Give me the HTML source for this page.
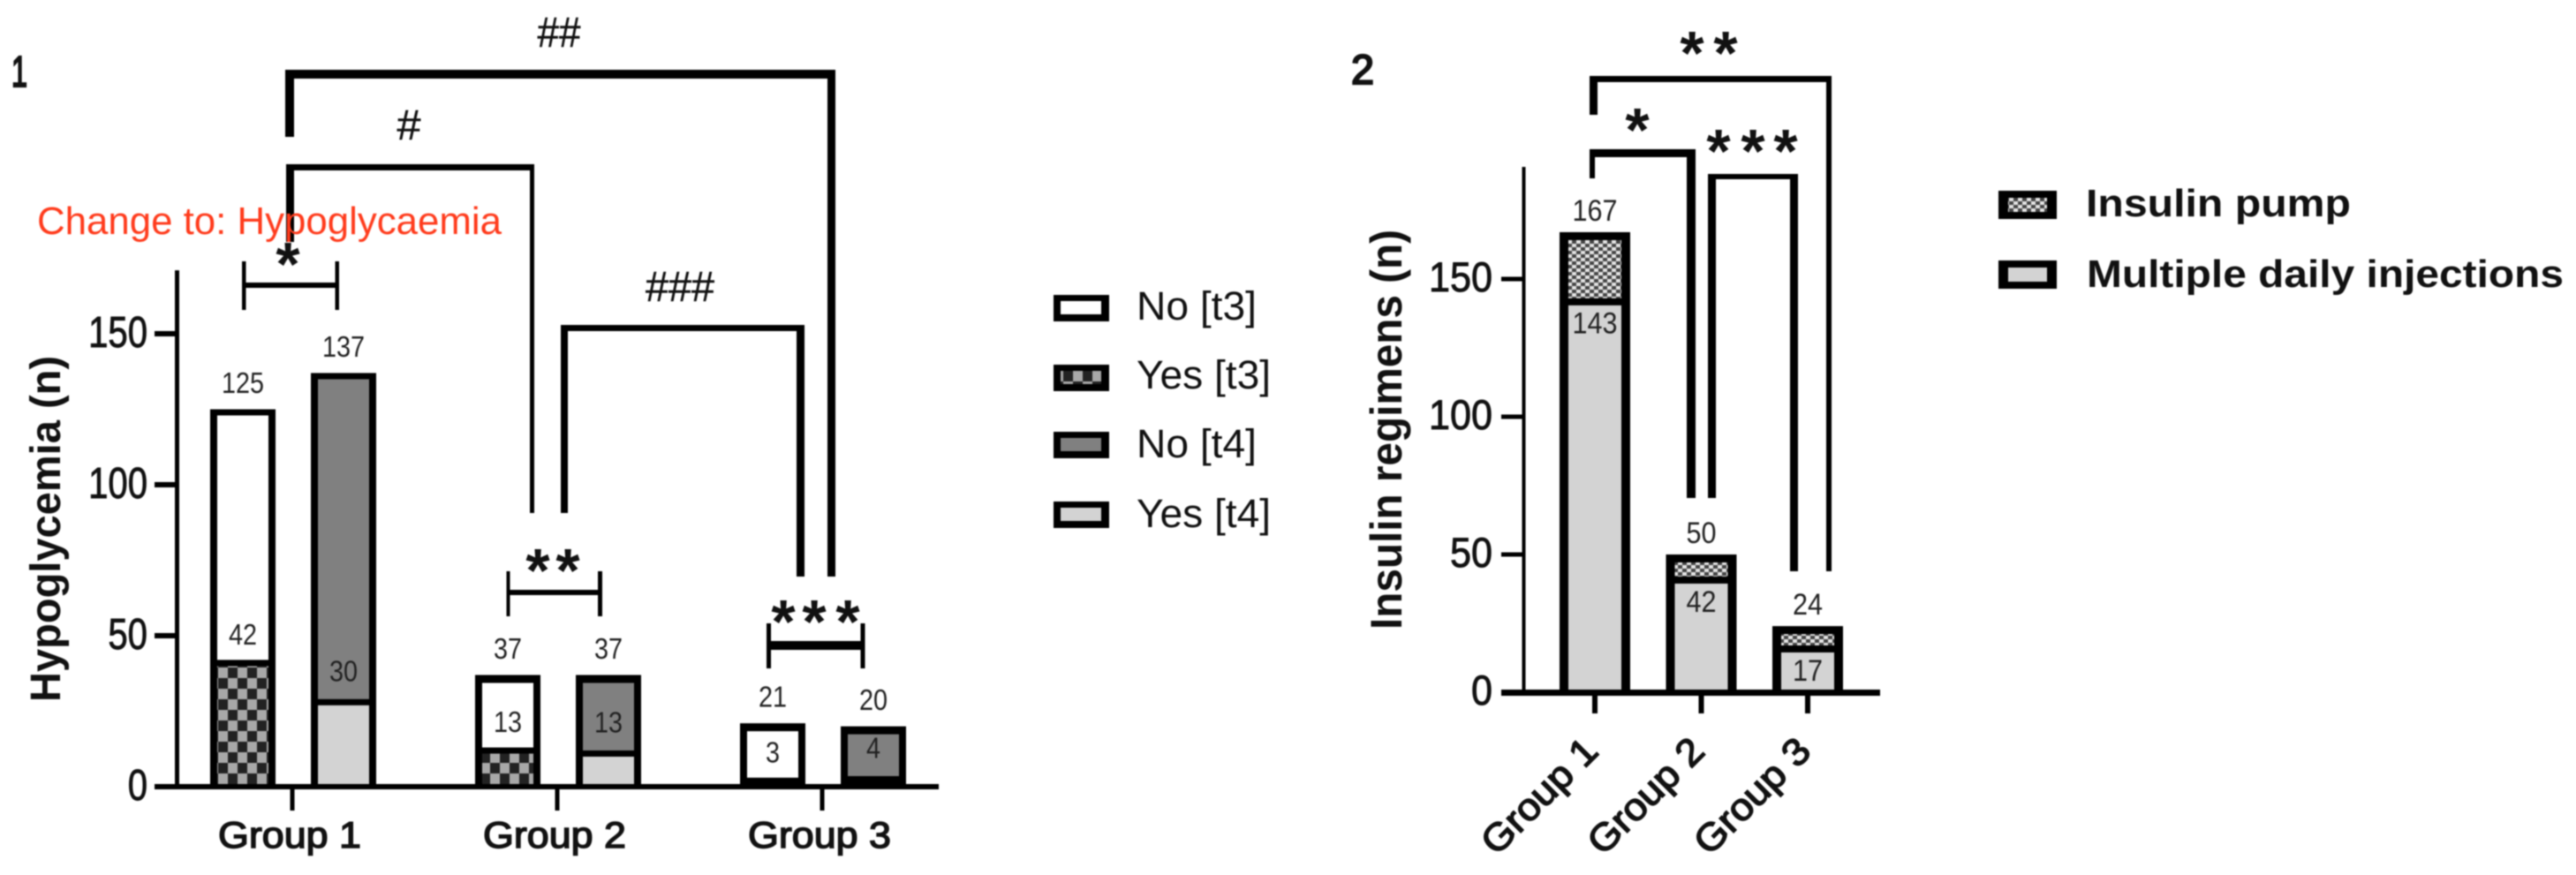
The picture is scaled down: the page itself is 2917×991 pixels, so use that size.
<!DOCTYPE html>
<html lang="en">
<head>
<meta charset="utf-8">
<title>Hypoglycemia and insulin regimens by group</title>
<style>
html,body{margin:0;padding:0;background:#fff;width:2917px;height:991px;overflow:hidden}
svg{display:block;filter:blur(0.8px)}
text{font-family:"Liberation Sans",sans-serif;fill:#111}
.bold{font-weight:700}
.semi{stroke:#111;stroke-width:1.5px}
.tick-text{stroke:#111;stroke-width:.9px}
.num{stroke:#111;stroke-width:2.2px}
.ast{font-weight:700;font-size:70px;text-anchor:middle;fill:#111}
.hash{fill:#111;text-anchor:middle;stroke:#111;stroke-width:.5px}
</style>
</head>
<body>
<svg id="figure" xmlns="http://www.w3.org/2000/svg" width="2917" height="991" viewBox="0 0 2917 991">
  <defs>
    <pattern id="checker" patternUnits="userSpaceOnUse" width="22" height="24" x="247" y="0">
      <rect width="22" height="24" fill="#a8a8a8"/>
      <rect width="11" height="12" fill="#222"/>
      <rect x="11" y="12" width="11" height="12" fill="#222"/>
    </pattern>
    <pattern id="dots" patternUnits="userSpaceOnUse" width="10" height="8">
      <rect width="10" height="8" fill="#e4e4e4"/>
      <rect width="5" height="4" fill="#444"/>
      <rect x="5" y="4" width="5" height="4" fill="#444"/>
    </pattern>
  </defs>

  <rect width="2917" height="991" fill="#fff"/>

  <text class="num" x="13" y="98" font-size="49" textLength="18" lengthAdjust="spacingAndGlyphs">1</text>
  <text class="num" x="1530" y="95" font-size="47" textLength="26" lengthAdjust="spacingAndGlyphs">2</text>

  <g id="chart1"></g>
  <g id="chart2"></g>

  <text class="bold" transform="translate(68,795) rotate(-90)" font-size="48" textLength="392" lengthAdjust="spacingAndGlyphs">Hypoglycemia (n)</text>
  <text class="bold" transform="translate(1587,713) rotate(-90)" font-size="50" textLength="453" lengthAdjust="spacingAndGlyphs">Insulin regimens (n)</text>

  <!-- Panel 1 significance brackets -->
  <g fill="#000">
    <rect x="323" y="79" width="623" height="10"/><rect x="323" y="79" width="10" height="76"/><rect x="937" y="79" width="9" height="574"/>
  </g>
  <g fill="#000">
    <rect x="324" y="186" width="281" height="7"/><rect x="324" y="186" width="9" height="88"/><rect x="600" y="186" width="5" height="395"/>
  </g>
  <g fill="#000">
    <rect x="635" y="368" width="276" height="7"/><rect x="635" y="368" width="8" height="213"/><rect x="902" y="368" width="9" height="285"/>
  </g>
  <g fill="#000">
    <rect x="274" y="296" width="4.5" height="55"/><rect x="379.5" y="296" width="4.5" height="55"/><rect x="274" y="320" width="110" height="6"/>
  </g>
  <g fill="#000">
    <rect x="573.5" y="647" width="4" height="51"/><rect x="677" y="647" width="5" height="51"/><rect x="574" y="668" width="108" height="6"/>
  </g>
  <g fill="#000">
    <rect x="868" y="706" width="5" height="51"/><rect x="974.5" y="706" width="5" height="51"/><rect x="868" y="726" width="111" height="10"/>
  </g>

  <text class="hash" x="633" y="53" font-size="48" textLength="49" lengthAdjust="spacingAndGlyphs">##</text>
  <text class="hash" x="463" y="158" font-size="48" textLength="27" lengthAdjust="spacingAndGlyphs">#</text>
  <text class="hash" x="770" y="341" font-size="48" textLength="78" lengthAdjust="spacingAndGlyphs">###</text>

  <text class="ast" x="326" y="323">*</text>
  <text class="ast" x="609 643" y="670">**</text>
  <text class="ast" x="887 922 960" y="728">***</text>

  <!-- Panel 2 significance brackets -->
  <g fill="#000">
    <rect x="1800" y="86" width="274" height="7"/><rect x="1800" y="86" width="9" height="44"/><rect x="2068" y="86" width="6" height="561"/>
  </g>
  <g fill="#000">
    <rect x="1800" y="169" width="120" height="9"/><rect x="1800" y="169" width="6" height="33"/><rect x="1910" y="169" width="10" height="395"/>
  </g>
  <g fill="#000">
    <rect x="1934" y="197" width="102" height="6"/><rect x="1934" y="197" width="9" height="367"/><rect x="2027" y="197" width="9" height="450"/>
  </g>
  <text class="ast" x="1916 1954" y="84">**</text>
  <text class="ast" x="1854" y="171">*</text>
  <text class="ast" x="1946 1985 2022" y="195">***</text>

  <!-- Legend 1 -->
  <g>
    <rect x="1193" y="334" width="63" height="30" fill="#000"/><rect x="1201" y="341" width="46" height="15" fill="#fff"/>
    <text x="1287" y="362" font-size="45" textLength="136" lengthAdjust="spacingAndGlyphs">No [t3]</text>
  </g>
  <g>
    <rect x="1193" y="413" width="63" height="30" fill="#000"/><rect x="1201" y="420" width="46" height="15" fill="url(#checker)"/>
    <text x="1287" y="440" font-size="45" textLength="152" lengthAdjust="spacingAndGlyphs">Yes [t3]</text>
  </g>
  <g>
    <rect x="1193" y="489" width="63" height="30" fill="#000"/><rect x="1201" y="496" width="46" height="15" fill="#808080"/>
    <text x="1287" y="518" font-size="45" textLength="136" lengthAdjust="spacingAndGlyphs">No [t4]</text>
  </g>
  <g>
    <rect x="1193" y="568" width="63" height="30" fill="#000"/><rect x="1201" y="575" width="46" height="15" fill="#d3d3d3"/>
    <text x="1287" y="597" font-size="45" textLength="152" lengthAdjust="spacingAndGlyphs">Yes [t4]</text>
  </g>

  <!-- Legend 2 -->
  <g>
    <rect x="2263" y="216" width="66" height="32" fill="#000"/><rect x="2274" y="224" width="44" height="16" fill="url(#dots)"/>
    <text class="bold" x="2362" y="245" font-size="44" textLength="300" lengthAdjust="spacingAndGlyphs">Insulin pump</text>
  </g>
  <g>
    <rect x="2263" y="295" width="66" height="32" fill="#000"/><rect x="2274" y="303" width="44" height="16" fill="#d3d3d3"/>
    <text class="bold" x="2363" y="325" font-size="44" textLength="540" lengthAdjust="spacingAndGlyphs">Multiple daily injections</text>
  </g>

  <text x="42" y="265" font-size="44" textLength="526" lengthAdjust="spacingAndGlyphs" style="fill:#ff3b1c">Change to: Hypoglycaemia</text>
</svg>

<script>
// Panel 1 data
var groups = ['Group 1', 'Group 2', 'Group 3'];
var t3Total = [125, 37, 21];
var t3Yes = [42, 13, 3];
var t4Total = [137, 37, 20];
var t4Yes = [29, 12, 3.5];
var t3TotalLabels = ['125', '37', '21'];
var t3YesLabels = ['42', '13', '3'];
var t4TotalLabels = ['137', '37', '20'];
var t4YesLabels = ['30', '13', '4'];
var ticks1 = [0, 50, 100, 150];
var axisMax1 = 171;

// Panel 2 data
var pump = [24, 8, 7];
var mdi = [143, 42, 17];
var totalLabels2 = ['167', '50', '24'];
var mdiLabels2 = ['143', '42', '17'];
var ticks2 = [0, 50, 100, 150];
var axisMax2 = 190.7;

var NS = 'http://www.w3.org/2000/svg';
function mk(parent, tag, attrs, txt) {
  var el = document.createElementNS(NS, tag);
  for (var k in attrs) el.setAttribute(k, attrs[k]);
  if (txt !== undefined) el.textContent = txt;
  parent.appendChild(el);
  return el;
}
function y1(v) { return 891 - 3.42 * v; }
function x1(i) { return 331 + 300 * i; }
function y2(v) { return 784 - 3.12 * v; }
function x2(i) { return 1806 + 120.5 * i; }

function valueText(parent, cx, cy, s, fs, perDigit) {
  return mk(parent, 'text', {
    x: cx, y: cy + 0.35 * fs, 'font-size': fs, 'text-anchor': 'middle',
    textLength: perDigit * s.length, lengthAdjust: 'spacingAndGlyphs', style: 'fill:#222'
  }, s);
}

function stackedBar1(parent, cx, total, yes, upperFill, lowerFill) {
  var w = 74, side = 8, div = 7, bottom = y1(0) - 3;
  var top = total < 100 ? 9 : 7;
  var outer = mk(parent, 'rect', { x: cx - w / 2, y: y1(total), width: w, height: bottom - y1(total) + 3, fill: '#000' });
  
  
  var upper = mk(parent, 'rect', { x: cx - w / 2 + side, y: y1(total) + top, width: w - 2 * side, height: Math.max(0, y1(yes) - y1(total) - top), fill: upperFill });
  
  
  var lowH = bottom - y1(yes) - div;
  var lower = mk(parent, 'rect', { x: cx - w / 2 + side, y: y1(yes) + div, width: w - 2 * side, height: lowH > 6 ? lowH : 0, fill: lowerFill });
  
  
}

function drawChart1() {
  var g = document.getElementById('chart1');
  groups.forEach(function (name, i) {
    stackedBar1(g, x1(i) - 56, t3Total[i], t3Yes[i], '#fff', 'url(#checker)');
    stackedBar1(g, x1(i) + 58, t4Total[i], t4Yes[i], '#808080', '#d3d3d3');

    var a = valueText(g, x1(i) - 56, y1(t3Total[i]) - 30, t3TotalLabels[i], 33, 16);
    
    
    var b = valueText(g, x1(i) - 56, y1(t3Yes[i]) - 29, t3YesLabels[i], 33, 16);
    
    
    var c = valueText(g, x1(i) + 58, y1(t4Total[i]) - 30, t4TotalLabels[i], 33, 16);
    
    
    var d = valueText(g, x1(i) + 58, y1(t4Yes[i]) - 32, t4YesLabels[i], 33, 16);
    
    

    var tick = mk(g, 'rect', { x: x1(i) - 2.5, y: y1(0), width: 5, height: 27, fill: '#000' });
    
    
    var lab = mk(g, 'text', { x: x1(i) - 3, y: 960, 'font-size': 42, 'text-anchor': 'middle', textLength: 162, lengthAdjust: 'spacingAndGlyphs', 'class': 'semi' }, name);
    
    
  });

  var axisY = mk(g, 'rect', { x: 198, y: y1(axisMax1), width: 5, height: y1(0) - y1(axisMax1), fill: '#000' });
  
  
  var axisX = mk(g, 'rect', { x: 175, y: y1(0) - 3, width: 888, height: 6, fill: '#000' });
  
  

  ticks1.forEach(function (t) {
    var tk = mk(g, 'rect', { x: 175, y: y1(t) - 3, width: 25, height: 6, fill: '#000' });
    
    
    var s = String(t);
    var lb = mk(g, 'text', { x: 167, y: y1(t) + 15, 'font-size': 49, 'text-anchor': 'end', textLength: 22.3 * s.length, lengthAdjust: 'spacingAndGlyphs', 'class': 'tick-text' }, s);
    
    
  });
}

function drawChart2() {
  var g = document.getElementById('chart2');
  var w = 80, side = 10, top = 9, div = 8;
  groups.forEach(function (name, i) {
    var cx = x2(i);
    var total = pump[i] + mdi[i];
    var outer = mk(g, 'rect', { x: cx - w / 2, y: y2(total), width: w, height: y2(0) - y2(total), fill: '#000' });
    
    
    var up = mk(g, 'rect', { x: cx - w / 2 + side, y: y2(total) + top, width: w - 2 * side, height: Math.max(0, y2(mdi[i]) - y2(total) - top), fill: 'url(#dots)' });
    
    
    var lowTop = y2(mdi[i]) + div;
    var low = mk(g, 'rect', { x: cx - w / 2 + side, y: lowTop, width: w - 2 * side, height: Math.max(0, y2(0) - 3 - lowTop), fill: '#d3d3d3' });
    
    

    var a = valueText(g, cx, y2(total) - 25, totalLabels2[i], 34, 17);
    
    
    var b = valueText(g, cx, y2(mdi[i]) + 28, mdiLabels2[i], 34, 17);
    
    

    var tick = mk(g, 'rect', { x: cx - 3, y: y2(0), width: 6, height: 24, fill: '#000' });
    
    
    var lab = mk(g, 'text', { transform: 'translate(' + (cx + 6) + ',853) rotate(-45)', 'font-size': 43, 'text-anchor': 'end', textLength: 166, lengthAdjust: 'spacingAndGlyphs', 'class': 'semi' }, name);
    
    
  });

  var axisY = mk(g, 'rect', { x: 1723.5, y: y2(axisMax2), width: 4, height: y2(0) - y2(axisMax2), fill: '#000' });
  
  
  var axisX = mk(g, 'rect', { x: 1700, y: y2(0) - 3, width: 429, height: 7, fill: '#000' });
  
  

  ticks2.forEach(function (t) {
    var tk = mk(g, 'rect', { x: 1700, y: y2(t) - 2.5, width: 25, height: 5, fill: '#000' });
    
    
    var s = String(t);
    var lb = mk(g, 'text', { x: 1690, y: y2(t) + 14, 'font-size': 47, 'text-anchor': 'end', textLength: 24 * s.length, lengthAdjust: 'spacingAndGlyphs', 'class': 'tick-text' }, s);
    
    
  });
}

drawChart1();
drawChart2();
</script>
</body>
</html>
